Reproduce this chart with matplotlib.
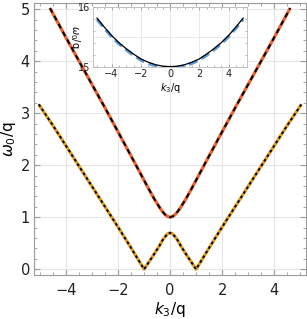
import numpy as np
import matplotlib.pyplot as plt
from matplotlib.ticker import MultipleLocator

# Upper branch
k_up = [-4.62, -4.0, -3.5, -3.0, -2.5, -2.0, -1.6, -1.31, -1.0, -0.8, -0.6, -0.5, -0.4,
        -0.3, -0.2, -0.1, 0.0, 0.1, 0.2, 0.3, 0.4, 0.5, 0.6, 0.8, 1.0, 1.31, 1.6, 2.0,
        2.5, 3.0, 3.5, 4.0, 4.62]
w_up = [5.02, 4.45, 4.0, 3.55, 3.1, 2.64, 2.27, 2.0, 1.71, 1.525, 1.345, 1.265, 1.185,
        1.115, 1.055, 1.015, 1.0, 1.015, 1.055, 1.115, 1.185, 1.265, 1.345, 1.525, 1.71, 2.0,
        2.27, 2.64, 3.1, 3.55, 4.0, 4.45, 5.02]

# Lower branch
k_lo = [-5.05, -4.5, -4.0, -3.5, -3.0, -2.5, -2.0, -1.5, -1.0, -0.8, -0.6, -0.5,
        -0.4, -0.3, -0.2, -0.1, 0.0, 0.1, 0.2, 0.3, 0.4, 0.5, 0.6, 0.8, 1.0,
        1.5, 2.0, 2.5, 3.0, 3.5, 4.0, 4.5, 5.05]
w_lo = [3.17, 2.76, 2.37, 1.98, 1.59, 1.2, 0.81, 0.41, 0.0, 0.15, 0.30, 0.38,
        0.46, 0.55, 0.62, 0.68, 0.70, 0.68, 0.62, 0.55, 0.46, 0.38, 0.30, 0.15, 0.0,
        0.41, 0.81, 1.2, 1.59, 1.98, 2.37, 2.76, 3.17]

# Inset curve
k_in = [-5.0, -4.5, -4.0, -3.5, -3.0, -2.5, -2.0, -1.5, -1.0, -0.5, 0.0,
        0.5, 1.0, 1.5, 2.0, 2.5, 3.0, 3.5, 4.0, 4.5, 5.0]
w_in = [15.81, 15.66, 15.52, 15.40, 15.30, 15.21, 15.13, 15.075, 15.033, 15.008, 15.0,
        15.008, 15.033, 15.075, 15.13, 15.21, 15.30, 15.40, 15.52, 15.66, 15.81]
w_in_blue = [15.79, 15.64, 15.50, 15.38, 15.28, 15.19, 15.11, 15.055, 15.013, 14.99, 14.985,
             14.99, 15.013, 15.055, 15.11, 15.19, 15.28, 15.38, 15.50, 15.64, 15.79]

red = "#EB6235"
gold = "#E19C24"
blue = "#5A9BD5"
frame = "#9a9a9a"

fig = plt.figure(figsize=(3.07, 3.19), dpi=100)
ax = fig.add_axes([0.111, 0.138, 0.886, 0.853])

ax.plot(k_up, w_up, color=red, lw=2.3, solid_capstyle="butt")
ax.plot(k_up, w_up, color="black", lw=1.4, linestyle=(0, (2.6, 2.0)))
ax.plot(k_lo, w_lo, color=gold, lw=2.3, solid_capstyle="butt")
ax.plot(k_lo, w_lo, color="black", lw=1.4, linestyle=(0, (1.4, 1.4)))

ax.set_xlim(-5.23, 5.23)
ax.set_ylim(-0.11, 5.12)
ax.xaxis.set_major_locator(MultipleLocator(2))
ax.xaxis.set_minor_locator(MultipleLocator(0.5))
ax.yaxis.set_major_locator(MultipleLocator(1))
ax.yaxis.set_minor_locator(MultipleLocator(0.2))
ax.grid(True, which="major", color="#e6e6e6", lw=0.8)
ax.set_axisbelow(True)
ax.tick_params(which="both", direction="in", top=True, right=True, color=frame,
               labelsize=10.5, labelcolor="#222222", pad=3)
ax.tick_params(which="major", length=4, width=0.8)
ax.tick_params(which="minor", length=2, width=0.6)
ax.tick_params(axis="x", pad=6)
for s in ax.spines.values():
    s.set_color(frame)
    s.set_linewidth(0.8)
ax.set_xlabel(r"$k_3$/q", fontsize=11, labelpad=1)
ax.set_ylabel(r"$\omega_0$/q", fontsize=11, labelpad=2)

# Inset
axi = fig.add_axes([0.304, 0.791, 0.500, 0.188])
axi.set_facecolor("white")
axi.plot(k_in, w_in_blue, color=blue, lw=2.2, linestyle=(0, (3, 1.5)))
axi.plot(k_in, w_in, color="black", lw=0.9)
axi.set_xlim(-5.25, 5.25)
axi.set_ylim(15, 16)
axi.xaxis.set_major_locator(MultipleLocator(2))
axi.xaxis.set_minor_locator(MultipleLocator(0.5))
axi.yaxis.set_major_locator(MultipleLocator(1))
axi.yaxis.set_minor_locator(MultipleLocator(0.2))
axi.grid(True, which="major", color="#e6e6e6", lw=0.6)
axi.axhline(15.5, color="#e6e6e6", lw=0.6, zorder=0)
axi.set_axisbelow(True)
axi.tick_params(which="both", direction="in", top=True, right=True, color=frame,
                labelsize=7, labelcolor="#222222", pad=2)
axi.tick_params(which="major", length=2.5, width=0.6)
axi.tick_params(which="minor", length=1.3, width=0.5)
for s in axi.spines.values():
    s.set_color("#bbbbbb")
    s.set_linewidth(0.6)
axi.set_xlabel(r"$k_3$/q", fontsize=7, labelpad=1)
axi.set_ylabel(r"$\omega_0$/q", fontsize=7, rotation=270, labelpad=7)

fig.savefig("out.png", dpi=100)
